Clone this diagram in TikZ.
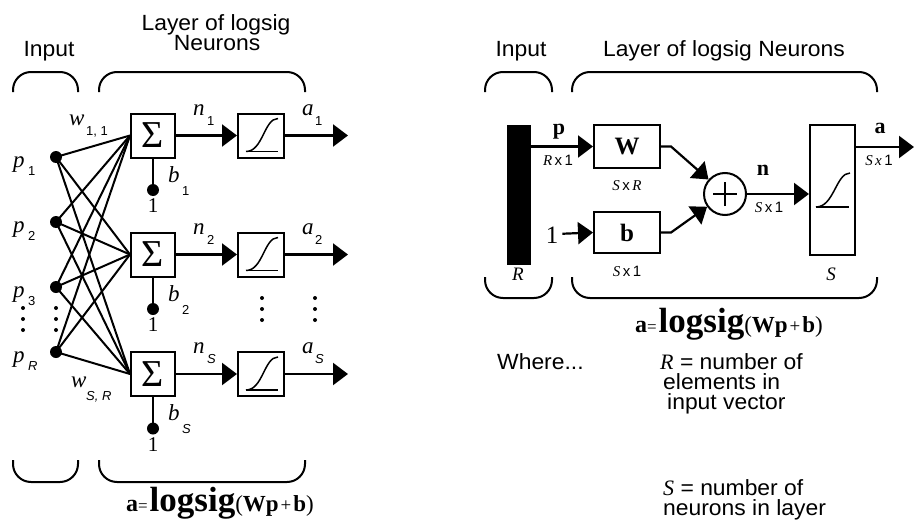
\documentclass[tikz,border=0pt]{standalone}
\usepackage{fontspec}
\setmainfont{Liberation Serif}
\newfontfamily\hsans{Liberation Sans}
\newfontfamily\hsansw[FakeStretch=1.04]{Liberation Sans}
\usetikzlibrary{arrows.meta}
\begin{document}
\begin{tikzpicture}[x=1pt,y=-1pt,
  box/.style={draw, line width=2pt, minimum width=44pt, minimum height=44pt, inner sep=0pt},
  dotn/.style={circle, fill, inner sep=0pt, minimum size=12pt},
  lnk/.style={line width=2pt},
  arr/.style={line width=2.2pt, -{Triangle[length=15pt,width=22pt]}},
  brace/.style={line width=2pt, rounded corners=18pt},
  head/.style={font=\hsansw\fontsize{22}{20}\selectfont, inner sep=0pt, anchor=base},
  var/.style={font=\fontsize{23}{23}\selectfont\itshape, inner sep=0pt, anchor=base west},
  subl/.style={font=\hsans\fontsize{13}{13}\selectfont, inner sep=0pt, anchor=base west},
  subi/.style={font=\hsans\fontsize{13}{13}\selectfont\itshape, inner sep=0pt, anchor=base west},
  dimlab/.style={font=\fontsize{15}{15}\selectfont, inner sep=0pt, anchor=base},
  bvar/.style={font=\fontsize{22}{22}\selectfont\bfseries, inner sep=0pt, anchor=base},
  onel/.style={font=\fontsize{21}{21}\selectfont, inner sep=0pt, anchor=base},
  txt/.style={font=\hsansw\fontsize{22}{20}\selectfont, inner sep=0pt, anchor=base west, align=left},
  sdot/.style={circle, fill, inner sep=0pt, minimum size=4pt},
  eq/.style={inner sep=0pt, anchor=base}
]
\useasboundingbox (0,0) rectangle (916,522);

% ---------------- LEFT ----------------
\node[head] (inL) at (49,56) {Input};
\node[head, align=center] (layL) at (216,50) {Layer of logsig\\\hspace*{2pt}Neurons};

\draw[brace] (13,92) -- (13,72) -- (78,72) -- (78,92);
\draw[brace] (99,92) -- (99,72) -- (305,72) -- (305,92);
\draw[brace] (13,460) -- (13,482) -- (78,482) -- (78,460);
\draw[brace] (99,460) -- (99,482) -- (305,482) -- (305,460);

\foreach \i/\y in {1/135.5,2/254.5,3/374}{
  \node[box, font=\fontsize{38}{38}\selectfont] (s\i) at (153,\y) {Σ};
  \node[box, minimum width=46pt] (f\i) at (261,\y) {};
  \coordinate (o\i) at (348,\y);
  \draw[arr] (s\i) -- (f\i);
  \draw[arr] (f\i) -- (o\i);
  \node[dotn] (bd\i) at (153,\y+54.5) {};
  \draw[lnk] (s\i.south) -- (bd\i.center);
  \node[onel] (one\i) at (153,\y+77) {1};
  \draw[line width=1.2pt] ([shift={(-15,16)}]f\i.center) -- ++(32,0);
  \draw[line width=1.5pt] ([shift={(-15,16)}]f\i.center) .. controls +(17,0) and +(-14,0) .. ([shift={(17,-17)}]f\i.center);
}

\foreach \i/\y in {1/157,2/222,3/287,4/352}{
  \node[dotn] (p\i) at (56,\y) {};
}
\foreach \i in {1,...,4}{
  \foreach \j in {1,2,3}{
    \draw[lnk] (p\i.center) -- (s\j.west);
  }
}

% input labels
\node[var] (lp1) at (13,167) {p};  \node[subl] at (28,175) {1};
\node[var] (lp2) at (13,232) {p};  \node[subl] at (28,240) {2};
\node[var] (lp3) at (13,297) {p};  \node[subl] at (28,305) {3};
\node[var] (lp4) at (13,362) {p};  \node[subi] at (28,370) {R};

\foreach \x in {23,56}{
  \foreach \y in {308,319,330}{ \node[sdot] at (\x,\y) {}; }
}
\foreach \x in {262,315}{
  \foreach \y in {298,309,320}{ \node[sdot] at (\x,\y) {}; }
}

\node[var] (w11) at (69,125) {w}; \node[subl] at (86,135) {1, 1};
\node[var] (wsr) at (71,387) {w}; \node[subi] at (86,400) {S, R};

\node[var] at (193,115) {n}; \node[subl] at (207,125) {1};
\node[var] at (193,234) {n}; \node[subl] at (207,244) {2};
\node[var] at (193,353.5) {n}; \node[subi] at (207,363.5) {S};

\node[var] at (302,115) {a}; \node[subl] at (315,125) {1};
\node[var] at (302,234) {a}; \node[subl] at (315,244) {2};
\node[var] at (302,353.5) {a}; \node[subi] at (315,363.5) {S};

\node[var] at (168,182) {b}; \node[subl] at (182,195) {1};
\node[var] at (168,301) {b}; \node[subl] at (182,314) {2};
\node[var] at (168,420.5) {b}; \node[subi] at (182,433.5) {S};

\node[eq] (eqL) at (220,511) {{\fontsize{24}{24}\selectfont\bfseries a}{\fontsize{17}{17}\selectfont=\hspace{2pt}}{\fontsize{35}{35}\selectfont\bfseries logsig}{\fontsize{23}{23}\selectfont(\textbf{Wp}\hspace{2pt}{\fontsize{19}{19}\selectfont+}\hspace{2pt}\textbf{b})}};

% ---------------- RIGHT ----------------
\node[head] (inR) at (521,56) {Input};
\node[head] (layR) at (724,56) {Layer of logsig Neurons};

\draw[brace] (485,92) -- (485,72) -- (552,72) -- (552,92);
\draw[brace] (572,92) -- (572,72) -- (877,72) -- (877,92);
\draw[brace] (485,277) -- (485,298) -- (552,298) -- (552,277);
\draw[brace] (572,277) -- (572,298) -- (877,298) -- (877,277);

\node[fill, minimum width=24pt, minimum height=140pt, inner sep=0pt] (bar) at (519,195) {};
\node[box, minimum width=66pt, minimum height=43pt, font=\fontsize{25}{25}\selectfont\bfseries] (W) at (627,146.5) {W};
\node[box, minimum width=66pt, minimum height=41pt, font=\fontsize{25}{25}\selectfont\bfseries] (B) at (627,232.5) {b};
\node[circle, draw, line width=2pt, minimum size=42pt, inner sep=0pt] (plus) at (725,194) {};
\draw[line width=2pt] ([xshift=-12pt]plus.center) -- ([xshift=12pt]plus.center);
\draw[line width=2pt] ([yshift=-12pt]plus.center) -- ([yshift=12pt]plus.center);
\node[box, minimum width=45pt, minimum height=130pt] (F) at (832.5,190) {};
\draw[line width=1.2pt] ([shift={(-16.5,17)}]F.center) -- ++(33,0);
\draw[line width=1.5pt] ([shift={(-16.5,17)}]F.center) .. controls +(18,0) and +(-14,0) .. ([shift={(17.5,-17)}]F.center);

\node[font=\fontsize{25}{25}\selectfont, inner sep=0pt, anchor=base] (oneR) at (552,243) {1};
\coordinate (aout) at (914,147);

\draw[arr] (bar.east |- W.west) -- (W.west);
\draw[arr] (oneR.east) ++(4,-1) -- (B.west);
\draw[arr] (W.east) -- ++(10,0) -- (plus);
\draw[arr] (B.east) -- ++(10,0) -- (plus);
\draw[arr] (plus.east) -- (plus.east -| F.west);
\draw[arr] (F.east |- aout) -- (aout);

\node[bvar] at (559,134) {p};
\node[bvar] at (763,175) {n};
\node[bvar] at (880,133) {a};
\node[dimlab] at (558,165) {\textit{R}{\hsans\,x\,1}};
\node[dimlab] at (627,190) {\textit{S}{\hsans\,x\,}\textit{R}};
\node[dimlab] at (627,276) {\textit{S}{\hsans\,x\,1}};
\node[dimlab] at (769,212) {\textit{S}{\hsans\,x\,1}};
\node[dimlab] at (879,165) {\textit{S}\,\textit{x}\,{\hsans 1}};
\node[font=\fontsize{19}{19}\selectfont\itshape, inner sep=0pt, anchor=base] at (518,280) {R};
\node[font=\fontsize{19}{19}\selectfont\itshape, inner sep=0pt, anchor=base] at (831,280) {S};

\node[eq] (eqR) at (729,332) {{\fontsize{24}{24}\selectfont\bfseries a}{\fontsize{17}{17}\selectfont=\hspace{2pt}}{\fontsize{35}{35}\selectfont\bfseries logsig}{\fontsize{23}{23}\selectfont(\textbf{Wp}\hspace{2pt}{\fontsize{19}{19}\selectfont+}\hspace{2pt}\textbf{b})}};

\node[txt] (where) at (497,369) {Where...};
\node[txt, anchor=north west] (rdef) at (660,353) {{\rmfamily\itshape R} = number of\\\hspace*{3pt}elements in\\\hspace*{7pt}input vector};
\node[txt, anchor=north west] (sdef) at (663,479) {{\rmfamily\itshape S} = number of\\neurons in layer};
\end{tikzpicture}
\end{document}
